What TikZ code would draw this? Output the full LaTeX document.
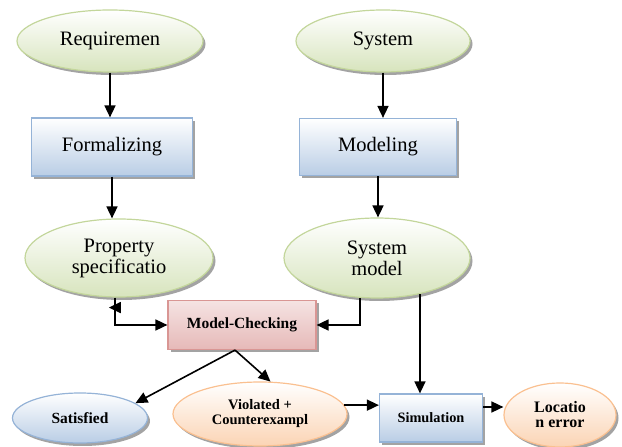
\documentclass[tikz,border=0pt]{standalone}
\usepackage{fontspec}
\setmainfont{Liberation Serif}
\usetikzlibrary{shapes.geometric, shadows, arrows.meta}

\definecolor{grnline}{HTML}{C3D69B}
\definecolor{grnfill}{HTML}{D7E4BD}
\definecolor{blueline}{HTML}{95B3D7}
\definecolor{bluefill}{HTML}{B9CDE5}
\definecolor{redline}{HTML}{D99694}
\definecolor{redfill}{HTML}{E6B9B8}
\definecolor{orgline}{HTML}{FAC090}
\definecolor{orgfill}{HTML}{FBD4B4}

\tikzset{
    box/.style = {inner sep=0, line width=1.2pt, align=center,
        drop shadow={shadow xshift=2.5pt, shadow yshift=-3pt, fill=black!45, opacity=.8}},
    bigtxt/.style = {font=\fontsize{20.5}{21}\selectfont},
    smalltxt/.style = {font=\fontsize{15}{15}\selectfont\bfseries},
    greenell/.style = {box, ellipse, draw=grnline, top color=white, bottom color=grnfill, bigtxt},
    bluerect/.style = {box, rectangle, draw=blueline, top color=white, bottom color=bluefill, bigtxt},
    blueell/.style = {box, ellipse, draw=blueline, top color=white, bottom color=bluefill, smalltxt},
    redrect/.style = {box, rectangle, draw=redline, top color=redfill!40, bottom color=redfill, smalltxt},
    orgell/.style = {box, ellipse, draw=orgline, top color=white, bottom color=orgfill, smalltxt},
    arr/.style = {line width=1.6pt, -{Triangle[length=12pt,width=11pt]}}
}

\begin{document}
\begin{tikzpicture}[x=1pt, y=1pt]
    \useasboundingbox (0,0) rectangle (622,447);
    % upper row
    \node[greenell, minimum width=186, minimum height=62] (req) at (110,406) {Requiremen};
    \node[greenell, minimum width=174, minimum height=62] (sys) at (383,406) {System};
    \node[bluerect, minimum width=161, minimum height=58] (form) at (112,300) {Formalizing};
    \node[bluerect, minimum width=157, minimum height=57] (mod) at (378,300) {Modeling};
    \node[greenell, minimum width=188, minimum height=78] (prop) at (119,189) {Property\\specificatio};
    \node[greenell, minimum width=186, minimum height=80] (sysm) at (377,189) {System\\model};
    % checking and results
    \node[redrect, minimum width=148, minimum height=49, font=\fontsize{15.5}{15}\selectfont\bfseries] (mc) at (242,122) {Model-Checking};
    \node[blueell, minimum width=135, minimum height=50, font=\fontsize{15.5}{15}\selectfont\bfseries] (sat) at (80,29) {Satisfied};
    \node[orgell, minimum width=174, minimum height=64, font=\fontsize{14.5}{15}\selectfont\bfseries] (vio) at (260,33) {Violated +\\Counterexampl};
    \node[bluerect, minimum width=103, minimum height=48, font=\fontsize{14.3}{15}\selectfont\bfseries] (sim) at (431,29) {Simulation};
    \node[orgell, minimum width=112, minimum height=64, font=\fontsize{16}{15}\selectfont\bfseries] (loc) at (560,32) {Locatio\\n error};

    \draw[arr] (req.south) -- (req.south |- form.north);
    \draw[arr] (form.south) -- (form.south |- prop.north);
    \draw[arr] (sys.south) -- (sys.south |- mod.north);
    \draw[arr] (mod.south) -- (mod.south |- sysm.north);
    \draw[arr] (prop.-96) |- (mc.west);
    \draw[arr] ([shift={(-4pt,-10pt)}]prop.-96) -- ++(-2pt,0);
    \draw[arr] (sysm.-113) |- (mc.east);
    \draw[arr] (sysm.-40) -- (sysm.-40 |- sim.north);
    \draw[arr] ([xshift=-7pt]mc.south) -- (sat.15);
    \draw[arr] ([xshift=-7pt]mc.south) -- (vio.72);
    \draw[arr] (vio.6) -- (vio.6 -| sim.west);
    \draw[arr] ([yshift=11pt]sim.east) -- ([yshift=11pt]sim.east -| loc.west);
\end{tikzpicture}
\end{document}
